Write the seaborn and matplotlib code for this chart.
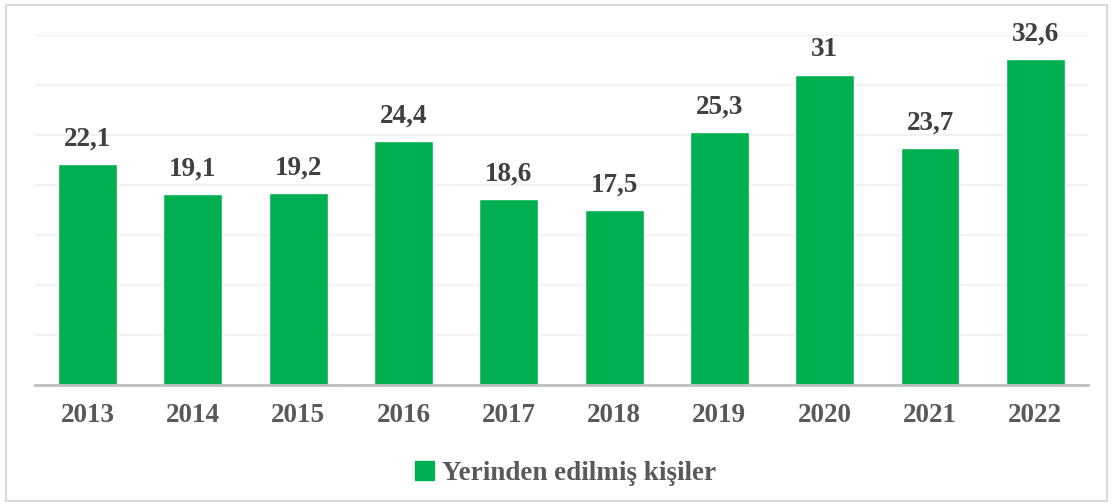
import matplotlib
matplotlib.use("Agg")
import matplotlib.pyplot as plt
import matplotlib.patches as mpatches
import seaborn as sns
import pandas as pd

# data
years = ["2013", "2014", "2015", "2016", "2017", "2018", "2019", "2020", "2021", "2022"]
displaced = [22.1, 19.1, 19.2, 24.4, 18.6, 17.5, 25.3, 31, 23.7, 32.6]
series_name = "Yerinden edilmiş kişiler"

df = pd.DataFrame({"Yil": years, "Deger": displaced})

sns.set_theme(style="white")
plt.rcParams['font.family'] = ['Liberation Serif', 'DejaVu Serif']

green = "#00B050"
fsize = 19.5

fig = plt.figure(figsize=(11.13, 5.04), dpi=100)
ax = fig.add_axes([0.0314, 0.2361, 0.9461, 0.6945])

sns.barplot(data=df, x="Yil", y="Deger", color=green, saturation=1, width=0.56, ax=ax)

ax.set_ylim(0, 35)
ax.set_xlim(-0.5, len(years) - 0.5)
ax.set_yticks(range(0, 36, 5))
ax.yaxis.grid(True, color="#F2F2F2", linewidth=1.5)
ax.set_axisbelow(True)
ax.set_yticklabels([])
ax.tick_params(axis="y", length=0)
ax.tick_params(axis="x", length=0, pad=13)
ax.set_xlabel("")
ax.set_ylabel("")

for side in ["top", "right", "left"]:
    ax.spines[side].set_visible(False)
ax.spines["bottom"].set_color("#BFBFBF")
ax.spines["bottom"].set_linewidth(2)

for lbl in ax.get_xticklabels():
    lbl.set_fontsize(fsize)
    lbl.set_fontweight("bold")
    lbl.set_color("#595959")

# value labels
for i, v in enumerate(displaced):
    txt = f"{v:g}".replace(".", ",")
    ax.annotate(txt, (i, v), xytext=(0, 9), textcoords="offset points",
                ha="center", va="bottom", fontsize=fsize, fontweight="bold",
                color="#404040")

# legend
handle = mpatches.Patch(color=green, label=series_name)
fig.legend(handles=[handle], loc="center", bbox_to_anchor=(0.508, 0.06),
           frameon=False, handlelength=0.7, handleheight=0.7, handletextpad=0.3,
           prop={"size": fsize, "weight": "bold"}, labelcolor="#595959")

# outer frame
frame = mpatches.Rectangle((0.005, 0.005), 0.99, 0.985, transform=fig.transFigure,
                           fill=False, edgecolor="#D9D9D9", linewidth=1.5)
fig.patches.append(frame)

fig.savefig("out.png", dpi=100)
